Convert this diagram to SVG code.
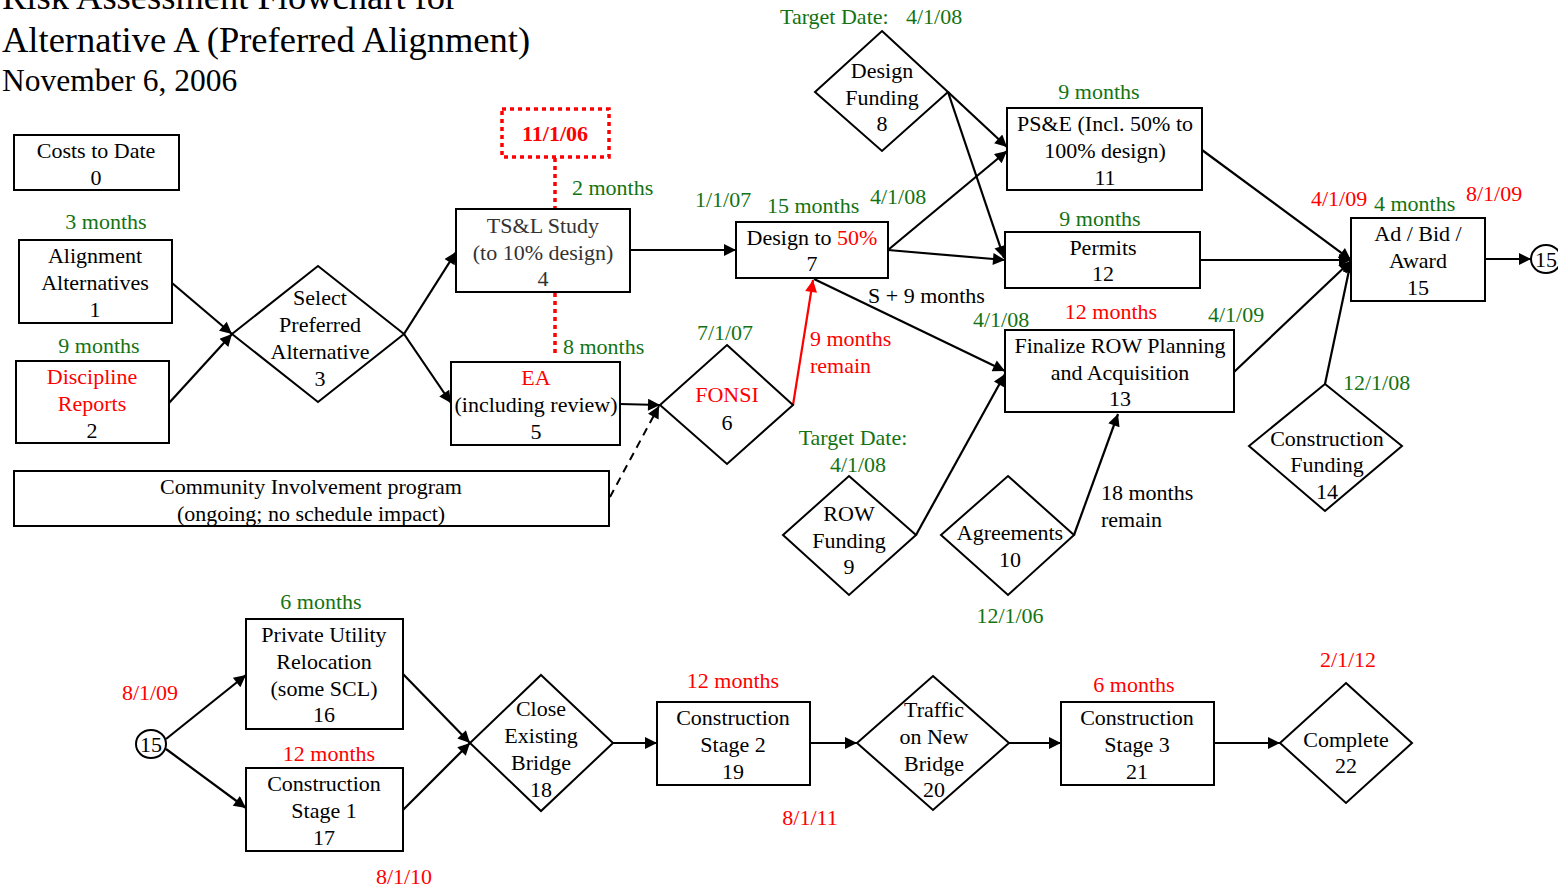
<svg xmlns="http://www.w3.org/2000/svg" width="1558" height="889" viewBox="0 0 1558 889">
<style>
text{font-family:"Liberation Serif","Times New Roman",serif;font-size:22px;fill:#000}
.c{text-anchor:middle}
.g{fill:#137313}
.r{fill:#f00}
.box{fill:#fff;stroke:#000;stroke-width:2}
.ln{fill:none;stroke:#000;stroke-width:2.2}
.title{font-size:36.5px}
</style>
<defs>
<marker id="a" viewBox="0 0 10 10" refX="10" refY="5" markerWidth="15" markerHeight="12" markerUnits="userSpaceOnUse" orient="auto"><path d="M0,0 L10,5 L0,10 z" fill="#000"/></marker>
<marker id="ar" viewBox="0 0 10 10" refX="10" refY="5" markerWidth="15" markerHeight="12" markerUnits="userSpaceOnUse" orient="auto"><path d="M0,0 L10,5 L0,10 z" fill="#f00"/></marker>
</defs>
<rect width="1558" height="889" fill="#fff"/>
<g id="title">
<text x="2" y="9" class="title">Risk Assessment Flowchart for</text>
<text x="2" y="52" class="title">Alternative A (Preferred Alignment)</text>
<text x="2" y="91" style="font-size:31.5px">November 6, 2006</text>
</g>
<g id="connectors">
<line class="ln" x1="172" y1="283" x2="232" y2="334" marker-end="url(#a)"/>
<line class="ln" x1="169" y1="403" x2="232" y2="334" marker-end="url(#a)"/>
<line class="ln" x1="404" y1="334" x2="456" y2="252" marker-end="url(#a)"/>
<line class="ln" x1="404" y1="334" x2="451" y2="403" marker-end="url(#a)"/>
<line class="ln" x1="630" y1="250" x2="736" y2="250" marker-end="url(#a)"/>
<line class="ln" x1="620" y1="404" x2="660" y2="405" marker-end="url(#a)"/>
<line x1="610" y1="497" x2="659" y2="406" stroke="#000" stroke-width="2" stroke-dasharray="8,6" marker-end="url(#a)"/>
<line x1="793" y1="405" x2="813" y2="280" stroke="#f00" stroke-width="2.2" marker-end="url(#ar)"/>
<line x1="555" y1="158" x2="555" y2="209" stroke="#f00" stroke-width="3.5" stroke-dasharray="4,4"/>
<line x1="555" y1="293" x2="555" y2="357" stroke="#f00" stroke-width="3.5" stroke-dasharray="4,4"/>
<line class="ln" x1="948" y1="92" x2="1007" y2="147" marker-end="url(#a)"/>
<line class="ln" x1="948" y1="92" x2="1004" y2="258" marker-end="url(#a)"/>
<line class="ln" x1="888" y1="250" x2="1007" y2="151" marker-end="url(#a)"/>
<line class="ln" x1="888" y1="250" x2="1005" y2="260" marker-end="url(#a)"/>
<line class="ln" x1="814" y1="279" x2="1005" y2="371" marker-end="url(#a)"/>
<line class="ln" x1="916" y1="535" x2="1005" y2="374" marker-end="url(#a)"/>
<line class="ln" x1="1074" y1="535" x2="1118" y2="414" marker-end="url(#a)"/>
<line class="ln" x1="1202" y1="150" x2="1351" y2="260" marker-end="url(#a)"/>
<line class="ln" x1="1200" y1="260" x2="1351" y2="260" marker-end="url(#a)"/>
<line class="ln" x1="1234" y1="372" x2="1351" y2="261" marker-end="url(#a)"/>
<line class="ln" x1="1325" y1="384" x2="1351" y2="261" marker-end="url(#a)"/>
<line class="ln" x1="1485" y1="259" x2="1531" y2="259" marker-end="url(#a)"/>
<line class="ln" x1="166" y1="739" x2="246" y2="675" marker-end="url(#a)"/>
<line class="ln" x1="166" y1="749" x2="246" y2="808" marker-end="url(#a)"/>
<line class="ln" x1="403" y1="674" x2="470" y2="743" marker-end="url(#a)"/>
<line class="ln" x1="403" y1="810" x2="470" y2="743" marker-end="url(#a)"/>
<line class="ln" x1="613" y1="743" x2="657" y2="743" marker-end="url(#a)"/>
<line class="ln" x1="810" y1="743" x2="857" y2="743" marker-end="url(#a)"/>
<line class="ln" x1="1009" y1="743" x2="1061" y2="743" marker-end="url(#a)"/>
<line class="ln" x1="1214" y1="743" x2="1280" y2="743" marker-end="url(#a)"/>
</g>
<g id="n0"><rect class="box" x="14" y="135" width="165" height="55"/>
<text x="96" y="158" class="c">Costs to Date</text><text x="96" y="185" class="c">0</text></g>
<g id="n1"><text x="106" y="229" class="c g">3 months</text>
<rect class="box" x="19" y="240" width="153" height="83"/>
<text x="95" y="263" class="c">Alignment</text><text x="95" y="290" class="c">Alternatives</text><text x="95" y="317" class="c">1</text></g>
<g id="n2"><text x="99" y="353" class="c g">9 months</text>
<rect class="box" x="16" y="361" width="153" height="82"/>
<text x="92" y="384" class="c r">Discipline</text><text x="92" y="411" class="c r">Reports</text><text x="92" y="438" class="c">2</text></g>
<g id="n3"><polygon class="box" points="318,266 404,334 318,402 232,334"/>
<text x="320" y="305" class="c">Select</text><text x="320" y="332" class="c">Preferred</text><text x="320" y="359" class="c">Alternative</text><text x="320" y="386" class="c">3</text></g>
<g id="d1106"><rect x="502" y="109" width="107" height="48" fill="none" stroke="#f00" stroke-width="3.5" stroke-dasharray="4,4"/>
<text x="555" y="141" class="c r" style="font-weight:bold">11/1/06</text></g>
<g id="n4"><text x="572" y="195" class="g">2 months</text>
<rect class="box" x="456" y="209" width="174" height="83"/>
<text x="543" y="233" class="c" style="fill:#333">TS&amp;L Study</text><text x="543" y="260" class="c" style="fill:#333">(to 10% design)</text><text x="543" y="286" class="c" style="fill:#333">4</text></g>
<g id="n5"><text x="563" y="354" class="g">8 months</text>
<rect class="box" x="451" y="362" width="169" height="83"/>
<text x="536" y="385" class="c r">EA</text><text x="536" y="412" class="c">(including review)</text><text x="536" y="439" class="c">5</text></g>
<g id="n6"><text x="725" y="340" class="c g">7/1/07</text>
<polygon class="box" points="727,345 793,405 727,464 660,405"/>
<text x="727" y="402" class="c r">FONSI</text><text x="727" y="430" class="c">6</text>
<text x="810" y="346" class="r">9 months</text><text x="810" y="373" class="r">remain</text></g>
<g id="ci"><rect class="box" x="14" y="471" width="595" height="55"/>
<text x="311" y="494" class="c">Community Involvement program</text><text x="311" y="521" class="c">(ongoing; no schedule impact)</text></g>
<g id="n7"><text x="695" y="207" class="g">1/1/07</text><text x="767" y="213" class="g">15 months</text><text x="870" y="204" class="g">4/1/08</text>
<rect class="box" x="736" y="222" width="152" height="56"/>
<text x="812" y="245" class="c">Design to <tspan class="r">50%</tspan></text><text x="812" y="271" class="c">7</text>
<text x="868" y="303">S + 9 months</text></g>
<g id="n8"><text x="780" y="24" class="g">Target Date:<tspan x="906">4/1/08</tspan></text>
<polygon class="box" points="882,31 948,92 882,151 815,92"/>
<text x="882" y="78" class="c">Design</text><text x="882" y="105" class="c">Funding</text><text x="882" y="131" class="c">8</text></g>
<g id="n11"><text x="1099" y="99" class="c g">9 months</text>
<rect class="box" x="1007" y="108" width="195" height="82"/>
<text x="1105" y="131" class="c">PS&amp;E (Incl. 50% to</text><text x="1105" y="158" class="c">100% design)</text><text x="1105" y="185" class="c">11</text></g>
<g id="n12"><text x="1100" y="226" class="c g">9 months</text>
<rect class="box" x="1005" y="232" width="195" height="56"/>
<text x="1103" y="255" class="c">Permits</text><text x="1103" y="281" class="c">12</text></g>
<g id="n13"><text x="1111" y="319" class="c r">12 months</text><text x="973" y="327" class="g">4/1/08</text><text x="1208" y="322" class="g">4/1/09</text>
<rect class="box" x="1005" y="330" width="229" height="82"/>
<text x="1120" y="353" class="c">Finalize ROW Planning</text><text x="1120" y="380" class="c">and Acquisition</text><text x="1120" y="406" class="c">13</text></g>
<g id="n9"><text x="853" y="445" class="c g">Target Date:</text><text x="858" y="472" class="c g">4/1/08</text>
<polygon class="box" points="849,476 916,535 849,595 783,535"/>
<text x="849" y="521" class="c">ROW</text><text x="849" y="548" class="c">Funding</text><text x="849" y="574" class="c">9</text></g>
<g id="n10"><polygon class="box" points="1008,476 1074,535 1008,595 941,535"/>
<text x="1010" y="540" class="c">Agreements</text><text x="1010" y="567" class="c">10</text>
<text x="1010" y="623" class="c g">12/1/06</text>
<text x="1101" y="500">18 months</text><text x="1101" y="527">remain</text></g>
<g id="n15"><text x="1311" y="206" class="r">4/1/09</text><text x="1374" y="211" class="g">4 months</text><text x="1466" y="201" class="r">8/1/09</text>
<rect class="box" x="1351" y="218" width="134" height="83"/>
<text x="1418" y="241" class="c">Ad / Bid /</text><text x="1418" y="268" class="c">Award</text><text x="1418" y="295" class="c">15</text></g>
<g id="c15a"><ellipse class="box" cx="1546" cy="259" rx="15" ry="14"/><text x="1546" y="267" class="c">15</text></g>
<g id="n14"><text x="1343" y="390" class="g">12/1/08</text>
<polygon class="box" points="1325,384 1402,446 1325,511 1249,446"/>
<text x="1327" y="446" class="c">Construction</text><text x="1327" y="472" class="c">Funding</text><text x="1327" y="499" class="c">14</text></g>
<g id="c15b"><text x="150" y="700" class="c r">8/1/09</text>
<ellipse class="box" cx="151" cy="744" rx="15" ry="14"/><text x="151" y="752" class="c">15</text></g>
<g id="n16"><text x="321" y="609" class="c g">6 months</text>
<rect class="box" x="246" y="619" width="157" height="110"/>
<text x="324" y="642" class="c">Private Utility</text><text x="324" y="669" class="c">Relocation</text><text x="324" y="696" class="c">(some SCL)</text><text x="324" y="722" class="c">16</text></g>
<g id="n17"><text x="329" y="761" class="c r">12 months</text>
<rect class="box" x="246" y="768" width="157" height="83"/>
<text x="324" y="791" class="c">Construction</text><text x="324" y="818" class="c">Stage 1</text><text x="324" y="845" class="c">17</text>
<text x="404" y="884" class="c r">8/1/10</text></g>
<g id="n18"><polygon class="box" points="541,675 613,743 541,811 470,743"/>
<text x="541" y="716" class="c">Close</text><text x="541" y="743" class="c">Existing</text><text x="541" y="770" class="c">Bridge</text><text x="541" y="797" class="c">18</text></g>
<g id="n19"><text x="733" y="688" class="c r">12 months</text>
<rect class="box" x="657" y="702" width="153" height="83"/>
<text x="733" y="725" class="c">Construction</text><text x="733" y="752" class="c">Stage 2</text><text x="733" y="779" class="c">19</text>
<text x="810" y="825" class="c r">8/1/11</text></g>
<g id="n20"><polygon class="box" points="933,676 1009,743 933,810 857,743"/>
<text x="934" y="717" class="c">Traffic</text><text x="934" y="744" class="c">on New</text><text x="934" y="771" class="c">Bridge</text><text x="934" y="797" class="c">20</text></g>
<g id="n21"><text x="1134" y="692" class="c r">6 months</text>
<rect class="box" x="1061" y="702" width="153" height="83"/>
<text x="1137" y="725" class="c">Construction</text><text x="1137" y="752" class="c">Stage 3</text><text x="1137" y="779" class="c">21</text></g>
<g id="n22"><text x="1348" y="667" class="c r">2/1/12</text>
<polygon class="box" points="1346,683 1412,743 1346,803 1280,743"/>
<text x="1346" y="747" class="c">Complete</text><text x="1346" y="773" class="c">22</text></g>
</svg>
